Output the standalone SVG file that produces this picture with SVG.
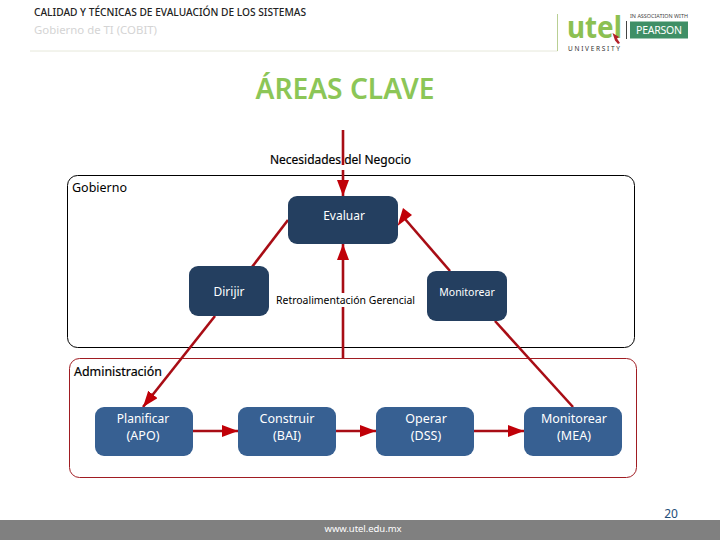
<svg xmlns="http://www.w3.org/2000/svg" width="720" height="540" viewBox="0 0 720 540">
<style>
text{font-family:"Noto Sans","DejaVu Sans",sans-serif}
.l{font-size:12.5px;fill:#000}
.n{font-size:12.5px;fill:#fff;text-anchor:middle}
.d{fill:#243f60}
.b{fill:#376092}
.c{fill:none;stroke:#a80d15;stroke-width:2.6}
</style>
<defs>
<marker id="a" markerUnits="userSpaceOnUse" markerWidth="18" markerHeight="14" refX="16" refY="6" orient="auto"><path d="M0 0L16 6L0 12Z" fill="#c00008"/></marker>
</defs>
<rect width="720" height="540" fill="#fff"/>
<g id="header">
<text x="34" y="16" style="font-size:10.2px;font-weight:500" fill="#222" textLength="272" lengthAdjust="spacingAndGlyphs">CALIDAD Y TÉCNICAS DE EVALUACIÓN DE LOS SISTEMAS</text>
<text x="34" y="34" style="font-size:11px" fill="#d4d4d4" textLength="123" lengthAdjust="spacingAndGlyphs">Gobierno de TI (COBIT)</text>
<path d="M30 51H557.500" fill="none" stroke="#e6e8da" stroke-width="1"/>
<path d="M557.500 51V14" fill="none" stroke="#b9cf94" stroke-width="1"/>
<text x="567" y="38" style="font-size:30px;font-weight:700" fill="#8cc052" textLength="55" lengthAdjust="spacingAndGlyphs">utel</text>
<text x="568" y="50.500" style="font-size:6.500px" fill="#333" textLength="52" lengthAdjust="spacing">UNIVERSITY</text>
<path d="M626.500 21V39" stroke="#444" stroke-width="1"/>
<text x="630" y="18" style="font-size:6px" fill="#444" textLength="58" lengthAdjust="spacingAndGlyphs">IN ASSOCIATION WITH</text>
<rect x="630" y="21.500" width="58" height="17" fill="#3f8f66"/>
<text x="659" y="34" style="font-size:10.500px;text-anchor:middle" fill="#fff" textLength="46" lengthAdjust="spacing">PEARSON</text>
<path d="M612.500 33L619 37L617 38.500L620 43L618 44L615 40.500Z" fill="#b3202a"/>
</g>
<text id="title" x="345" y="99" style="font-size:29px;font-weight:600;text-anchor:middle" fill="#8cc657" textLength="179" lengthAdjust="spacingAndGlyphs">ÁREAS CLAVE</text>
<g id="regions">
<rect id="gobierno" x="67.500" y="175.500" width="567" height="172" rx="10" fill="none" stroke="#000" stroke-width="1"/>
<rect id="administracion" x="69.500" y="358.500" width="567" height="119" rx="10" fill="none" stroke="#a01c22" stroke-width="1"/>
</g>
<g id="connectors">
<path class="c" d="M343 130V165" stroke-width="2"/>
<path class="c" d="M343 170V196" marker-end="url(#a)"/>
<path class="c" d="M343 358V307"/>
<path class="c" d="M343 293V244" marker-end="url(#a)"/>
<path class="c" d="M288 220L252 267"/>
<path class="c" d="M215 316L143 407" marker-end="url(#a)"/>
<path class="c" d="M450 271L405 219"/>
<polygon points="403,208 412,215 397.500,226" fill="#c00008"/>
<path class="c" d="M495 321L573 407"/>
<path class="c" d="M193 431H238" marker-end="url(#a)"/>
<path class="c" d="M336 431H376" marker-end="url(#a)"/>
<path class="c" d="M474 431H524" marker-end="url(#a)"/>
</g>
<text class="l" x="270" y="164" textLength="141" lengthAdjust="spacingAndGlyphs" stroke="#000" stroke-width=".2">Necesidades del Negocio</text>
<text class="l" x="72" y="192" textLength="55" lengthAdjust="spacingAndGlyphs">Gobierno</text>
<text class="l" x="74" y="376" textLength="88" lengthAdjust="spacingAndGlyphs" stroke="#000" stroke-width=".2">Administración</text>
<g id="evaluar"><rect class="d" x="288" y="196" width="110" height="48" rx="9"/><text class="n" x="344" y="220" style="font-size:12px">Evaluar</text></g>
<g id="dirijir"><rect class="d" x="189" y="266" width="80" height="50" rx="9"/><text class="n" x="229" y="296" style="font-size:12px">Dirijir</text></g>
<g id="monitorear"><rect class="d" x="427" y="271" width="80" height="50" rx="9"/><text class="n" x="467" y="296" style="font-size:10.500px">Monitorear</text></g>
<text x="276" y="304" style="font-size:11px" fill="#000" textLength="139" lengthAdjust="spacingAndGlyphs">Retroalimentación Gerencial</text>
<g id="planificar"><rect class="b" x="95" y="407" width="98" height="49" rx="9"/><text class="n" x="143" y="423" style="font-size:12px">Planificar</text><text class="n" x="143" y="440">(APO)</text></g>
<g id="construir"><rect class="b" x="238" y="407" width="98" height="49" rx="9"/><text class="n" x="287" y="423">Construir</text><text class="n" x="287" y="440">(BAI)</text></g>
<g id="operar"><rect class="b" x="376" y="407" width="98" height="49" rx="9"/><text class="n" x="426" y="423">Operar</text><text class="n" x="426" y="440">(DSS)</text></g>
<g id="mea"><rect class="b" x="524" y="407" width="98" height="49" rx="9"/><text class="n" x="574" y="423">Monitorear</text><text class="n" x="574" y="440">(MEA)</text></g>
<g id="footer">
<rect y="520" width="720" height="20" fill="#808080"/>
<text x="363" y="532" style="font-size:9.500px;text-anchor:middle" fill="#fff" textLength="77" lengthAdjust="spacing">www.utel.edu.mx</text>
<text x="671" y="518" style="font-size:12px;text-anchor:middle" fill="#1f4e79">20</text>
</g>
</svg>
